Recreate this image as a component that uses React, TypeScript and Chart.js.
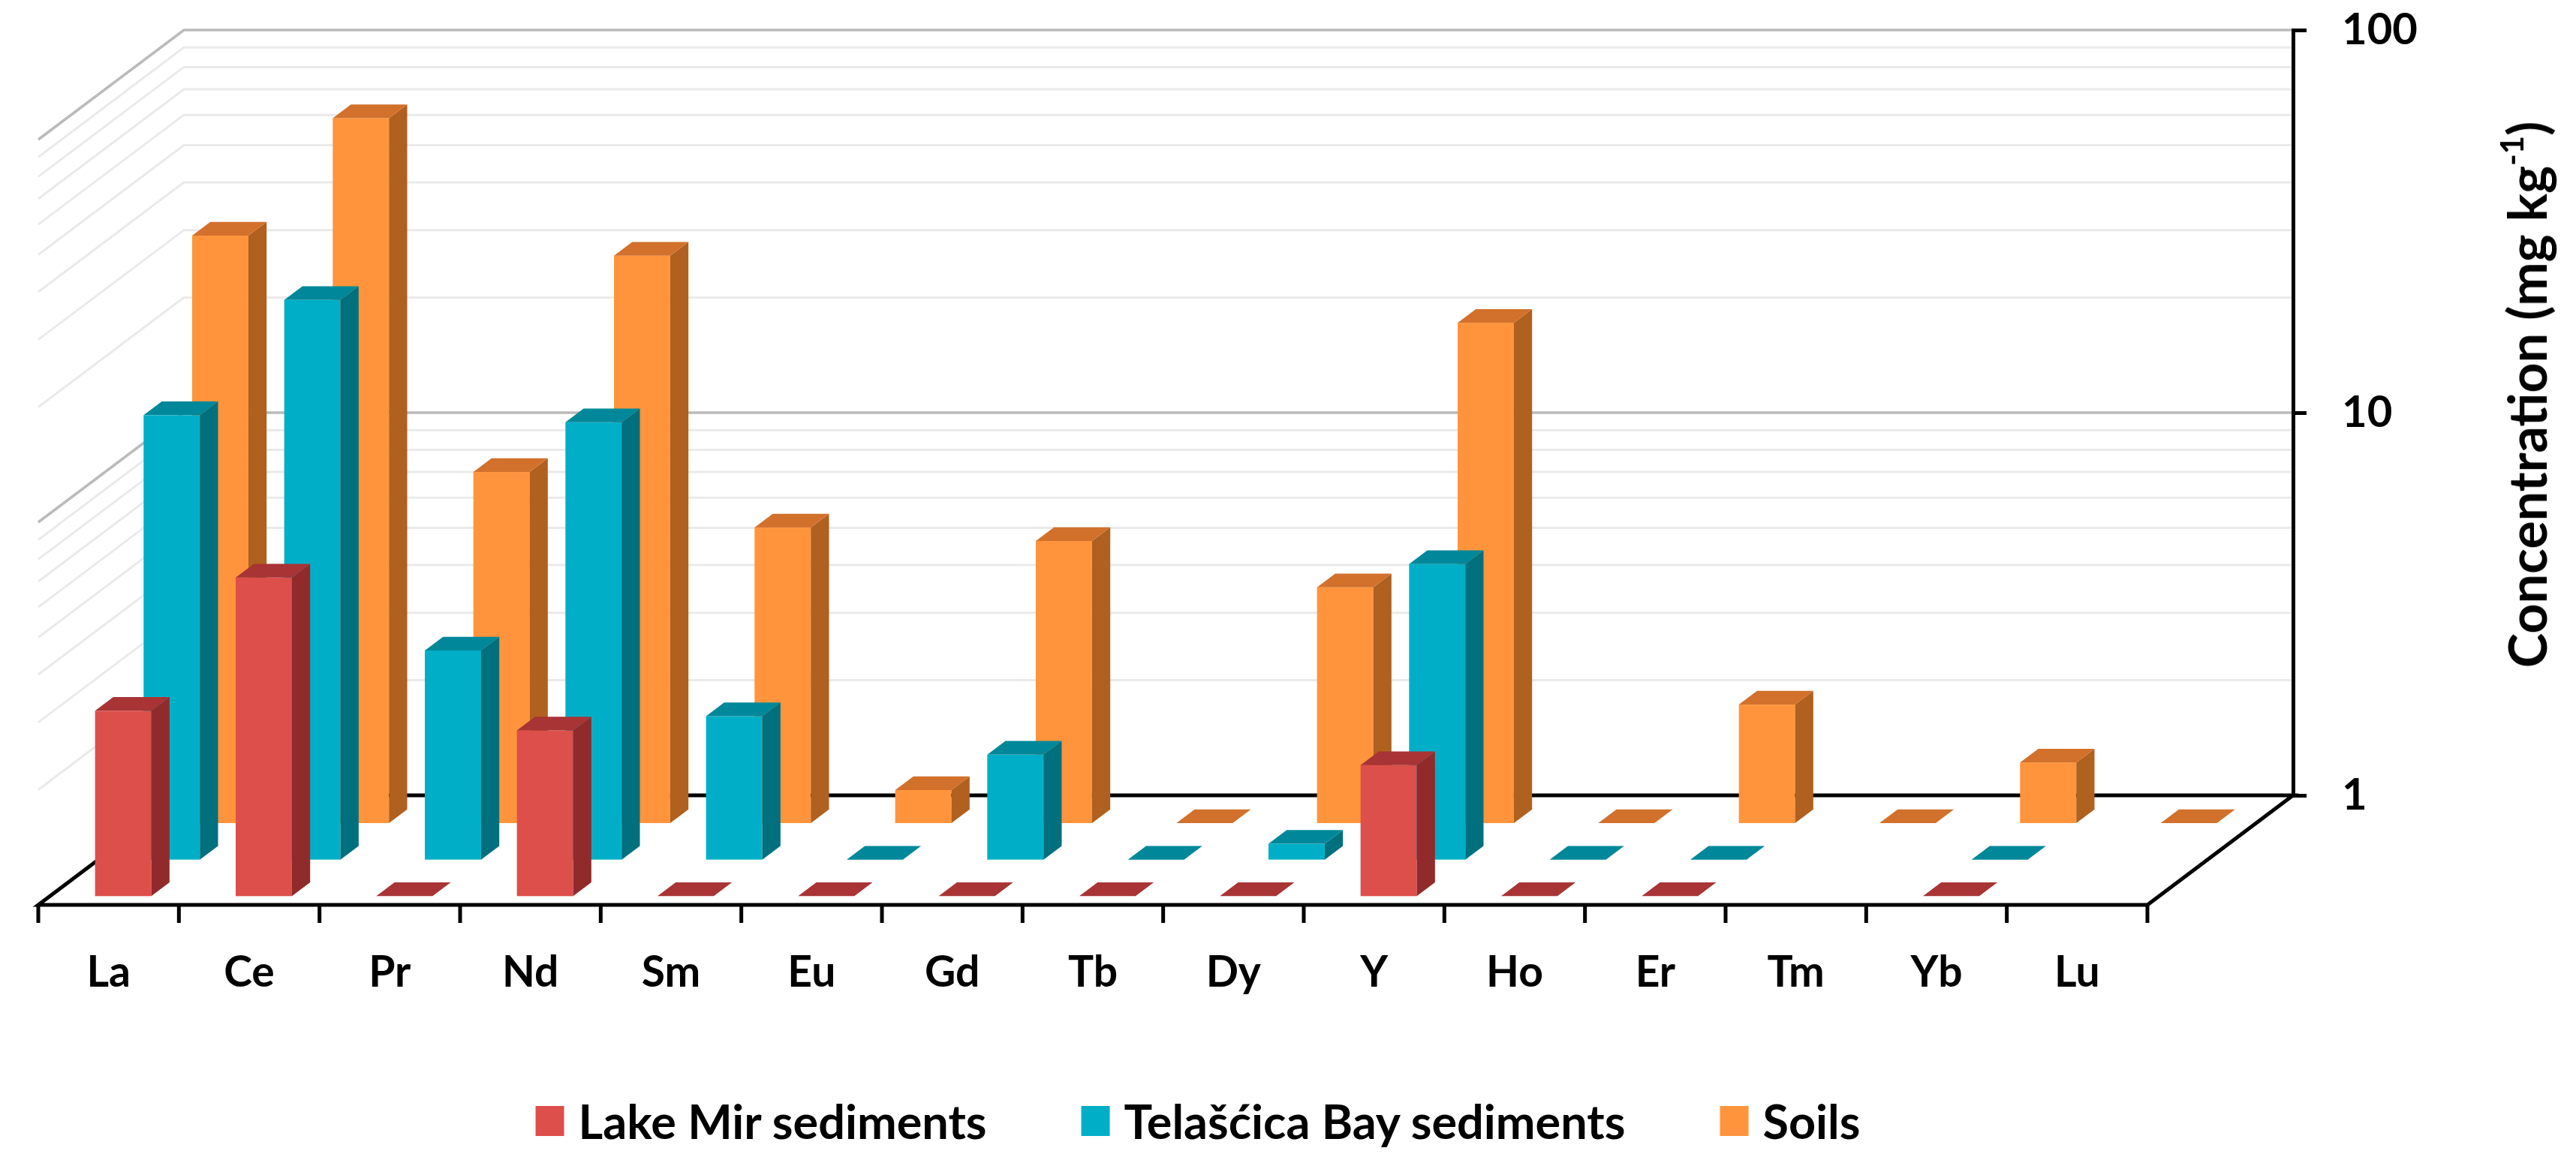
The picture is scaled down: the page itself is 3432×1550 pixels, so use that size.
import React, { useEffect, useRef } from 'react';
import { Chart, registerables } from 'chart.js';

Chart.register(...registerables);

// ---------- data ----------
const CATEGORIES = ['La', 'Ce', 'Pr', 'Nd', 'Sm', 'Eu', 'Gd', 'Tb', 'Dy', 'Y', 'Ho', 'Er', 'Tm', 'Yb', 'Lu'];
// values at the floor (<= 1, drawn flat) are given as 1; missing marks as null
const LAKE_MIR = [3.05, 6.8, 1, 2.71, 1, 1, 1, 1, 1, 2.2, 1, 1, null, 1, null];
const TELASCICA = [14.5, 29.0, 3.52, 13.9, 2.37, 1, 1.88, 1, 1.1, 5.92, 1, 1, null, 1, null];
const SOILS = [34.3, 69.5, 8.27, 30.4, 5.92, 1.22, 5.46, 1, 4.13, 20.3, 1, 2.04, 1, 1.44, 1];
const SERIES_LABELS = ['Lake Mir sediments', 'Telašćica Bay sediments', 'Soils'];
const Y_TICKS = [1, 10, 100];
const GRID_MINOR = [2, 3, 4, 5, 6, 7, 8, 9, 20, 30, 40, 50, 60, 70, 80, 90];
const GRID_MAJOR = [10, 100];
const AXIS_TITLE = 'Concentration (mg kg';
const AXIS_TITLE_SUP = '-1';
const AXIS_TITLE_END = ')';

// ---------- styles ----------
const W = 3432;
const H = 1550;
const FONT = 'Lato, "Open Sans", "DejaVu Sans", sans-serif';
const PALETTE = [
  { front: '#DD4F4A', side: '#912B2B', top: '#A83435' },
  { front: '#00AFC7', side: '#00707F', top: '#00889A' },
  { front: '#FF943C', side: '#B0601F', top: '#D2712C' },
];
const GEOM = {
  depthX: 194,
  depthY: 146,
  rows: 3,
  barFront: 0.24,
  barDepth: 0.375,
  barLeft: 0.321,
  barWidth: 0.4,
};

function drawBox(
  ctx: CanvasRenderingContext2D,
  x0: number,
  yBase: number,
  yTop: number,
  w: number,
  dx: number,
  dy: number,
  c: { front: string; side: string; top: string }
) {
  if (yBase - yTop > 0.5) {
    ctx.fillStyle = c.front;
    ctx.fillRect(x0, yTop, w, yBase - yTop);
    ctx.fillStyle = c.side;
    ctx.beginPath();
    ctx.moveTo(x0 + w, yBase);
    ctx.lineTo(x0 + w + dx, yBase + dy);
    ctx.lineTo(x0 + w + dx, yTop + dy);
    ctx.lineTo(x0 + w, yTop);
    ctx.closePath();
    ctx.fill();
  }
  ctx.fillStyle = c.top;
  ctx.beginPath();
  ctx.moveTo(x0, yTop);
  ctx.lineTo(x0 + w, yTop);
  ctx.lineTo(x0 + w + dx, yTop + dy);
  ctx.lineTo(x0 + dx, yTop + dy);
  ctx.closePath();
  ctx.fill();
}

const threeD = {
  id: 'threeD',
  beforeDraw(chart: any) {
    const { ctx, chartArea: a, scales } = chart;
    const y = scales.y;
    const n = CATEGORIES.length;
    const u = (a.right - a.left) / n;
    const dx = GEOM.depthX;
    const dy = GEOM.depthY;
    ctx.save();
    ctx.lineCap = 'butt';
    ctx.lineJoin = 'miter';
    const grid = (v: number, color: string, lw: number) => {
      const py = y.getPixelForValue(v);
      ctx.strokeStyle = color;
      ctx.lineWidth = lw;
      ctx.beginPath();
      ctx.moveTo(a.left - dx, py + dy);
      ctx.lineTo(a.left, py);
      ctx.lineTo(a.right - 2, py);
      ctx.stroke();
    };
    GRID_MINOR.forEach((v) => grid(v, '#EAEAEA', 3));
    GRID_MAJOR.forEach((v) => grid(v, '#BBBBBB', 3.5));

    const b = y.getPixelForValue(1);
    ctx.strokeStyle = '#000';
    ctx.lineWidth = 5;
    ctx.beginPath();
    ctx.moveTo(a.left, b);
    ctx.lineTo(a.right, b);
    ctx.lineTo(a.right - dx, b + dy);
    ctx.lineTo(a.left - dx, b + dy);
    ctx.closePath();
    ctx.stroke();
    ctx.beginPath();
    for (let i = 0; i <= n; i++) {
      const px = a.left - dx + i * u;
      ctx.moveTo(px, b + dy);
      ctx.lineTo(px, b + dy + 24);
    }
    ctx.stroke();
    ctx.restore();
  },
  beforeDatasetsDraw(chart: any) {
    const { ctx, chartArea: a, scales } = chart;
    const x = scales.x;
    const y = scales.y;
    const n = CATEGORIES.length;
    const u = (a.right - a.left) / n;
    const slotX = GEOM.depthX / GEOM.rows;
    const slotY = GEOM.depthY / GEOM.rows;
    const bdx = GEOM.barDepth * slotX;
    const bdy = -GEOM.barDepth * slotY;
    ctx.save();
    for (let k = GEOM.rows - 1; k >= 0; k--) {
      const ds = chart.data.datasets[k];
      const sFront = GEOM.rows - k - GEOM.barFront;
      const sx = -sFront * slotX;
      const sy = sFront * slotY;
      ds.data.forEach((v: number | null, i: number) => {
        if (v === null || v === undefined) return;
        const xl = x.getPixelForValue(i) - u / 2 + GEOM.barLeft * u + sx;
        const w = GEOM.barWidth * u;
        const yBase = y.getPixelForValue(1) + sy;
        const yTop = y.getPixelForValue(Math.max(v, 1)) + sy;
        drawBox(ctx, xl, yBase, yTop, w, bdx, bdy, PALETTE[k]);
      });
    }
    ctx.restore();
    return false;
  },
};

export default function App() {
  const ref = useRef<HTMLCanvasElement>(null);
  useEffect(() => {
    const series = [LAKE_MIR, TELASCICA, SOILS];
    const chart = new Chart(ref.current as HTMLCanvasElement, {
      type: 'bar',
      data: {
        labels: CATEGORIES,
        datasets: series.map((d, k) => ({
          label: SERIES_LABELS[k],
          data: d,
          backgroundColor: PALETTE[k].front,
        })),
      },
      options: {
        animation: false,
        responsive: false,
        devicePixelRatio: 1,
        events: [],
        layout: { padding: { left: 245, top: 40, right: 0, bottom: 0 } },
        plugins: { legend: { display: false }, tooltip: { enabled: false } },
        scales: {
          x: {
            type: 'category',
            offset: true,
            grid: { display: false, drawTicks: false },
            border: { display: false },
            ticks: {
              color: '#000',
              font: { family: FONT, weight: 'bold', size: 57 },
              padding: 202,
              labelOffset: -GEOM.depthX,
              maxRotation: 0,
              autoSkip: false,
            },
            afterFit: (s: any) => {
              s.height = 490;
              s.paddingLeft = 0;
              s.paddingRight = 0;
            },
          },
          y: {
            type: 'logarithmic',
            position: 'right',
            min: 1,
            max: 100,
            afterBuildTicks: (s: any) => {
              s.ticks = Y_TICKS.map((v) => ({ value: v }));
            },
            afterFit: (s: any) => {
              s.width = 377;
              s.paddingTop = 0;
              s.paddingBottom = 0;
            },
            grid: { drawOnChartArea: false, drawTicks: true, tickLength: 18, color: '#000', lineWidth: 5 },
            border: { display: true, color: '#000', width: 5 },
            ticks: {
              color: '#000',
              font: { family: FONT, weight: 'bold', size: 58 },
              padding: 47,
              callback: (v: any) => String(v),
            },
          },
        },
      } as any,
      plugins: [threeD as any],
    });
    return () => chart.destroy();
  }, []);

  return (
    <div style={{ position: 'absolute', left: 0, top: 0, width: W, height: H, background: '#fff', overflow: 'hidden' }}>
      <canvas ref={ref} width={W} height={H} style={{ position: 'absolute', left: 0, top: 0, width: W, height: H }} />
      <div
        style={{
          position: 'absolute',
          left: 3366,
          top: 526,
          transform: 'translate(-50%, -50%) rotate(-90deg)',
          whiteSpace: 'nowrap',
          fontFamily: FONT,
          fontWeight: 700,
          fontSize: 70,
          lineHeight: '70px',
          color: '#000',
        }}
      >
        {AXIS_TITLE}
        <sup style={{ fontSize: '0.6em', lineHeight: 0, verticalAlign: '0.75em' }}>{AXIS_TITLE_SUP}</sup>
        {AXIS_TITLE_END}
      </div>
      <div
        style={{
          position: 'absolute',
          left: 1596,
          top: 1462,
          height: 63,
          transform: 'translateX(-50%)',
          display: 'flex',
          alignItems: 'center',
          fontFamily: FONT,
          fontWeight: 700,
          fontSize: 63,
          lineHeight: '63px',
          color: '#000',
          whiteSpace: 'nowrap',
        }}
      >
        {SERIES_LABELS.map((label, k) => (
          <div key={label} style={{ display: 'flex', alignItems: 'center', marginRight: k < SERIES_LABELS.length - 1 ? 126 : 0 }}>
            <span style={{ display: 'inline-block', width: 38, height: 40, background: PALETTE[k].front, marginRight: 19 }} />
            <span>{label}</span>
          </div>
        ))}
      </div>
    </div>
  );
}
